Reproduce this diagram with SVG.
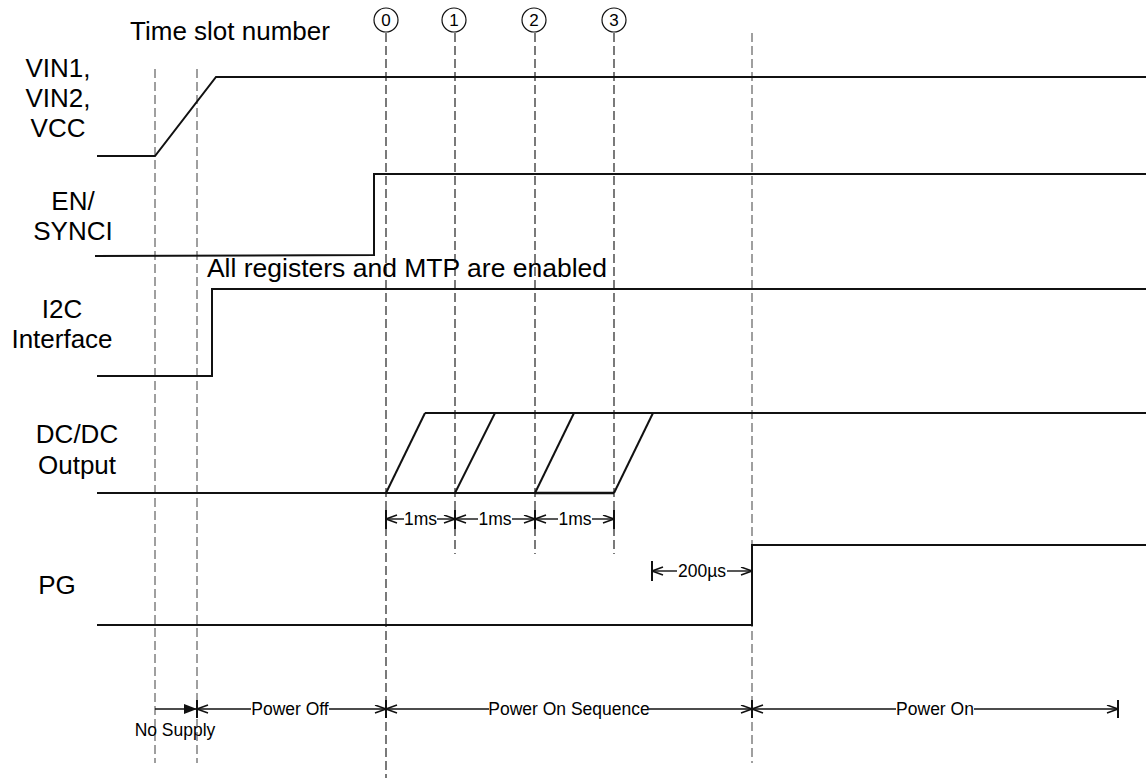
<svg xmlns="http://www.w3.org/2000/svg" width="1146" height="778" viewBox="0 0 1146 778">
<style>
.lbl{font-family:"Liberation Sans",Arial,sans-serif;font-size:26px;fill:#000;text-anchor:middle}
.sm{font-family:"Liberation Sans",Arial,sans-serif;font-size:17.5px;fill:#000;text-anchor:middle}
.num{font-family:"Liberation Sans",Arial,sans-serif;font-size:17px;fill:#000;text-anchor:middle}
.wave{fill:none;stroke:#111;stroke-width:2}
.dashA{stroke:#333;stroke-width:1.3;stroke-dasharray:9 4;fill:none}
.dashB{stroke:#808080;stroke-width:1.5;stroke-dasharray:9 4;fill:none}
.dim{stroke:#111;stroke-width:1.4;fill:none}
.tick{stroke:#111;stroke-width:2;fill:none}
.circ{fill:#fff;stroke:#111;stroke-width:1.2}
</style>
<defs>
<marker id="open" markerUnits="userSpaceOnUse" markerWidth="13" markerHeight="10" refX="12" refY="4.5" orient="auto-start-reverse">
<path d="M1,0.5 L12,4.5 L1,8.5" fill="none" stroke="#111" stroke-width="1.5"/>
</marker>
<marker id="solid" markerUnits="userSpaceOnUse" markerWidth="14" markerHeight="12" refX="13" refY="5" orient="auto">
<path d="M0,0 L13,5 L0,10 Z" fill="#111"/>
</marker>
</defs>
<rect width="1146" height="778" fill="#fff"/>

<g id="gridlines">
<line class="dashB" x1="155" y1="69" x2="155" y2="763"/>
<line class="dashB" x1="197" y1="69" x2="197" y2="763"/>
<line class="dashA" x1="386" y1="33" x2="386" y2="778"/>
<line class="dashA" x1="455" y1="33" x2="455" y2="554"/>
<line class="dashA" x1="535" y1="33" x2="535" y2="554"/>
<line class="dashA" x1="614" y1="33" x2="614" y2="554"/>
<line class="dashB" x1="752" y1="33" x2="752" y2="763"/>
</g>

<g id="slot-numbers">
<text class="lbl" x="230" y="40">Time slot number</text>
<g id="slot0"><circle class="circ" cx="386" cy="20" r="12"/><text class="num" x="386" y="26">0</text></g>
<g id="slot1"><circle class="circ" cx="454" cy="20" r="12"/><text class="num" x="454" y="26">1</text></g>
<g id="slot2"><circle class="circ" cx="534" cy="20" r="12"/><text class="num" x="534" y="26">2</text></g>
<g id="slot3"><circle class="circ" cx="614" cy="20" r="12"/><text class="num" x="614" y="26">3</text></g>
</g>

<g id="vin">
<text class="lbl" x="58" y="77">VIN1,</text>
<text class="lbl" x="58" y="107">VIN2,</text>
<text class="lbl" x="58" y="137">VCC</text>
<polyline class="wave" points="97,156 155,156 216,77 1146,77"/>
</g>

<g id="en">
<text class="lbl" x="73" y="210">EN/</text>
<text class="lbl" x="73" y="240">SYNCI</text>
<polyline class="wave" points="95,256 374,255 374,174 1146,174"/>
</g>

<g id="i2c">
<text class="lbl" x="407" y="277" style="font-size:26.5px">All registers and MTP are enabled</text>
<text class="lbl" x="62" y="318">I2C</text>
<text class="lbl" x="62" y="348">Interface</text>
<polyline class="wave" points="97,376 212,376 212,289 1146,289"/>
</g>

<g id="dcdc">
<text class="lbl" x="77" y="443">DC/DC</text>
<text class="lbl" x="77" y="474">Output</text>
<polyline class="wave" points="97,493 614,493"/>
<line class="wave" x1="535" y1="493" x2="614" y2="493" style="stroke-width:2.6"/>
<polyline class="wave" points="425,413 1146,413"/>
<line class="wave" x1="386" y1="493" x2="425" y2="413"/>
<line class="wave" x1="455" y1="493" x2="495" y2="413"/>
<line class="wave" x1="535" y1="493" x2="574" y2="413"/>
<line class="wave" x1="614" y1="493" x2="653" y2="413"/>
</g>

<g id="pg">
<text class="lbl" x="57" y="594">PG</text>
<polyline class="wave" points="97,625 752,625 752,545 1146,545"/>
</g>

<g id="connectors">
<line class="tick" x1="386" y1="510" x2="386" y2="529"/>
<line class="tick" x1="455" y1="510" x2="455" y2="529"/>
<line class="tick" x1="535" y1="510" x2="535" y2="529"/>
<line class="tick" x1="614" y1="510" x2="614" y2="529"/>
<line class="dim" x1="386" y1="519" x2="404" y2="519" marker-start="url(#open)"/>
<line class="dim" x1="437" y1="519" x2="455" y2="519" marker-end="url(#open)"/>
<line class="dim" x1="455" y1="519" x2="478" y2="519" marker-start="url(#open)"/>
<line class="dim" x1="512" y1="519" x2="535" y2="519" marker-end="url(#open)"/>
<line class="dim" x1="535" y1="519" x2="558" y2="519" marker-start="url(#open)"/>
<line class="dim" x1="592" y1="519" x2="614" y2="519" marker-end="url(#open)"/>
<text class="sm" x="420.5" y="525">1ms</text>
<text class="sm" x="495" y="525">1ms</text>
<text class="sm" x="575" y="525">1ms</text>
<line class="tick" x1="652" y1="561" x2="652" y2="581"/>
<line class="dim" x1="652" y1="571" x2="677" y2="571" marker-start="url(#open)"/>
<line class="dim" x1="727" y1="571" x2="752" y2="571" marker-end="url(#open)"/>
<text class="sm" x="702" y="577">200µs</text>
<line class="dim" x1="155" y1="709" x2="197" y2="709" marker-end="url(#solid)"/>
<text class="sm" x="175" y="736">No Supply</text>
<line class="tick" x1="197" y1="700" x2="197" y2="718"/>
<line class="tick" x1="386" y1="700" x2="386" y2="718"/>
<line class="tick" x1="752" y1="700" x2="752" y2="718"/>
<line class="tick" x1="1118" y1="700" x2="1118" y2="718"/>
<line class="dim" x1="197" y1="709" x2="251" y2="709" marker-start="url(#open)"/>
<line class="dim" x1="329" y1="709" x2="386" y2="709" marker-end="url(#open)"/>
<text class="sm" x="290" y="715">Power Off</text>
<line class="dim" x1="386" y1="709" x2="489" y2="709" marker-start="url(#open)"/>
<line class="dim" x1="649" y1="709" x2="752" y2="709" marker-end="url(#open)"/>
<text class="sm" x="569" y="715">Power On Sequence</text>
<line class="dim" x1="752" y1="709" x2="896" y2="709" marker-start="url(#open)"/>
<line class="dim" x1="974" y1="709" x2="1118" y2="709" marker-end="url(#open)"/>
<text class="sm" x="935" y="715">Power On</text>
</g>
</svg>
